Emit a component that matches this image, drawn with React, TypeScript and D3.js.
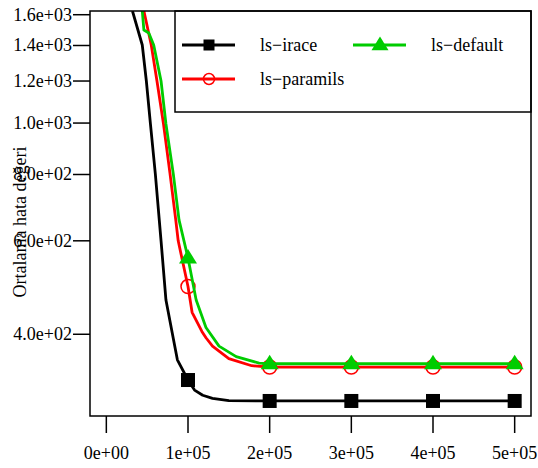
import React from 'react';
import * as d3 from 'd3';

// evaluations (x) and average error (y)
const iraceX = [32e3, 44e3, 49e3, 54e3, 60e3, 67e3, 73e3, 81e3, 87e3, 1e5, 108e3, 118e3, 130e3, 150e3, 2e5, 3e5, 4e5, 5e5];
const iraceY = [1626, 1403, 1200, 996, 802, 600, 464, 400, 358, 328, 314, 307, 303, 300, 299.5, 299.5, 299.5, 299.5];

const paramilsX = [46e3, 55e3, 62e3, 70e3, 78e3, 85e3, 88e3, 1e5, 105e3, 117e3, 122e3, 130e3, 150e3, 178e3, 2e5, 3e5, 4e5, 5e5];
const paramilsY = [1626, 1403, 1200, 996, 802, 657, 600, 492, 440, 405, 394, 380, 360, 349, 347, 347, 347, 347];

const defaultX = [44e3, 46e3, 52e3, 58e3, 67e3, 73e3, 82e3, 89e3, 1e5, 110e3, 122e3, 138e3, 159e3, 187e3, 2e5, 3e5, 4e5, 5e5];
const defaultY = [1626, 1497, 1478, 1403, 1200, 996, 802, 657, 557, 464, 412, 380, 363, 353, 352, 352, 352, 352];

const markerX = [1e5, 2e5, 3e5, 4e5, 5e5];
const xTicks = [0, 1e5, 2e5, 3e5, 4e5, 5e5];
const xTickLabels = ['0e+00', '1e+05', '2e+05', '3e+05', '4e+05', '5e+05'];
const yTicks = [400, 600, 800, 1000, 1200, 1400, 1600];
const yTickLabels = ['4.0e+02', '6.0e+02', '8.0e+02', '1.0e+03', '1.2e+03', '1.4e+03', '1.6e+03'];

const FONT = 'Liberation Serif';

const series = [
  { name: 'ls\u2212irace', xs: iraceX, ys: iraceY, color: '#000000', shape: 'square' },
  { name: 'ls\u2212paramils', xs: paramilsX, ys: paramilsY, color: '#ff0000', shape: 'circle' },
  { name: 'ls\u2212default', xs: defaultX, ys: defaultY, color: '#00cc00', shape: 'triangle' },
];

const Marker = ({ shape, x, y, color, size }: any) => {
  if (shape === 'square') {
    return <rect x={x - size / 2} y={y - size / 2} width={size} height={size} fill={color} />;
  }
  if (shape === 'circle') {
    return <circle cx={x} cy={y} r={size / 2} fill="none" stroke={color} strokeWidth={1.5} />;
  }
  const h = size * 0.8;
  return (
    <path
      d={`M${x},${y - h * 0.62} L${x + size / 2},${y + h * 0.38} L${x - size / 2},${y + h * 0.38} Z`}
      fill={color}
    />
  );
};

const App = () => {
  const width = 538;
  const height = 468;
  const box = { left: 90, right: 531, top: 11, bottom: 416 };

  const x = d3.scaleLinear().domain([-2e4, 5.2e5]).range([box.left, box.right]);
  const y = d3.scaleLog().domain([280.6, 1626]).range([box.bottom, box.top]);

  const line = d3.line<[number, number]>()
    .x(d => x(d[0]))
    .y(d => y(d[1]));

  const legendRows = [
    { s: series[0], lx: 182, tx: 260, ly: 45 },
    { s: series[2], lx: 353, tx: 431, ly: 45 },
    { s: series[1], lx: 182, tx: 260, ly: 79 },
  ];

  return (
    <svg
      width={width}
      height={height}
      style={{ position: 'absolute', left: 0, top: 0, background: '#fff' }}
    >
      <defs>
        <clipPath id="plotclip">
          <rect x={box.left} y={box.top} width={box.right - box.left} height={box.bottom - box.top} />
        </clipPath>
      </defs>

      <g clipPath="url(#plotclip)">
        {series.map(s => (
          <g key={s.name}>
            <path
              d={line(s.xs.map((v, i) => [v, s.ys[i]] as [number, number])) || ''}
              fill="none"
              stroke={s.color}
              strokeWidth={2.8}
              strokeLinejoin="round"
            />
            {markerX.map(mx => {
              const i = s.xs.indexOf(mx);
              return (
                <Marker key={mx} shape={s.shape} x={x(mx)} y={y(s.ys[i])} color={s.color}
                  size={s.shape === 'triangle' ? 18 : 14} />
              );
            })}
          </g>
        ))}
      </g>

      {/* legend */}
      <rect x={175} y={box.top} width={box.right - 175} height={101} fill="#fff" stroke="#000" strokeWidth={1.5} />
      {legendRows.map(r => (
        <g key={r.s.name}>
          <line x1={r.lx} x2={r.lx + 53} y1={r.ly} y2={r.ly} stroke={r.s.color} strokeWidth={2.8} />
          <Marker shape={r.s.shape} x={r.lx + 27} y={r.ly} color={r.s.color}
            size={r.s.shape === 'triangle' ? 17 : 11} />
          <text x={r.tx} y={r.ly} dy="0.33em" fontSize={18} fontFamily={FONT} fill="#000">{r.s.name}</text>
        </g>
      ))}

      {/* box */}
      <rect x={box.left} y={box.top} width={box.right - box.left} height={box.bottom - box.top}
        fill="none" stroke="#000" strokeWidth={1.5} />

      {/* x axis */}
      {xTicks.map((t, i) => (
        <g key={t}>
          <line x1={x(t)} x2={x(t)} y1={box.bottom} y2={433} stroke="#000" strokeWidth={1.5} />
          <text x={x(t)} y={459} textAnchor="middle" fontSize={18} fontFamily={FONT}>{xTickLabels[i]}</text>
        </g>
      ))}

      {/* y axis */}
      {yTicks.map((t, i) => (
        <g key={t}>
          <line x1={73} x2={box.left} y1={y(t)} y2={y(t)} stroke="#000" strokeWidth={1.5} />
          <text x={72} y={y(t)} dy="0.33em" textAnchor="end" fontSize={18} fontFamily={FONT}>{yTickLabels[i]}</text>
        </g>
      ))}

      <text transform="translate(26,222) rotate(-90)" textAnchor="middle" fontSize={18} fontFamily={FONT}>
        Ortalama hata değeri
      </text>
    </svg>
  );
};

export default App;
